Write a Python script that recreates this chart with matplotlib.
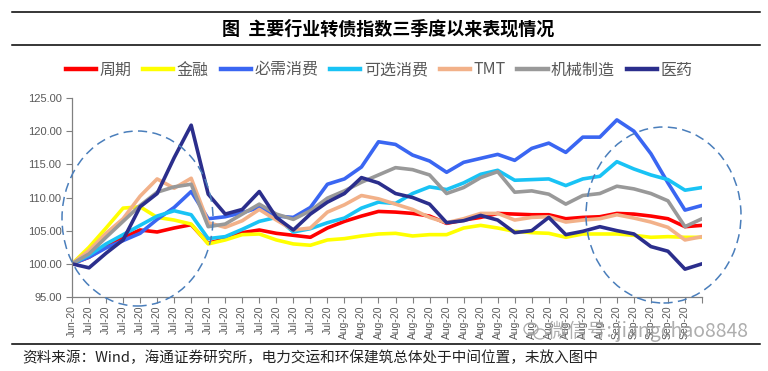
import numpy as np
import matplotlib
matplotlib.use('Agg')
import matplotlib.pyplot as plt
from matplotlib.patches import Ellipse
from matplotlib.lines import Line2D

plt.rcParams['font.family'] = ['Liberation Sans', 'Noto Sans CJK SC', 'DejaVu Sans']

# tick labels (Excel category axis, the last point has no label)
dates = (['Jun-20'] + ['Jul-20'] * 15 + ['Aug-20'] * 16 + ['Sep-20'] * 5)

names = ['周期', '金融', '必需消费', '可选消费', 'TMT', '机械制造', '医药']
colors = ['#FF0000', '#FFFF00', '#3A66F2', '#19C3F5', '#F2B189', '#999999', '#2B2E8C']

zhouqi = [100.0, 101.0, 102.6, 104.0, 105.1, 104.8, 105.4, 105.9, 103.1, 103.8,
          104.7, 105.1, 104.6, 104.3, 104.0, 105.4, 106.4, 107.2, 107.9, 107.8,
          107.6, 107.2, 106.1, 106.6, 107.0, 107.6, 107.5, 107.4, 107.4, 106.8,
          107.0, 107.1, 107.6, 107.5, 107.2, 106.8, 105.6, 105.8]
jinrong = [100.0, 102.5, 105.4, 108.4, 108.6, 107.0, 106.6, 106.0, 103.0, 103.6,
           104.4, 104.5, 103.6, 103.0, 102.8, 103.6, 103.8, 104.2, 104.5, 104.6,
           104.2, 104.4, 104.4, 105.4, 105.8, 105.4, 104.9, 104.7, 104.6, 104.0,
           104.5, 104.5, 104.5, 104.3, 104.0, 104.1, 104.0, 104.0]
bixu = [100.0, 101.0, 102.4, 103.5, 104.6, 106.7, 108.5, 110.9, 106.8, 107.1,
        107.7, 108.5, 107.2, 107.0, 108.5, 112.0, 112.8, 114.6, 118.4, 118.0,
        116.4, 115.5, 113.8, 115.3, 115.9, 116.5, 115.6, 117.4, 118.2, 116.8,
        119.1, 119.1, 121.7, 120.0, 116.6, 112.2, 108.1, 108.8]
kexuan = [100.0, 101.3, 103.0, 104.4, 105.8, 107.2, 108.0, 107.4, 103.8, 104.1,
          105.2, 106.4, 107.0, 104.8, 105.3, 106.2, 106.9, 108.4, 109.3, 109.1,
          110.6, 111.6, 111.2, 112.2, 113.5, 114.1, 112.6, 112.7, 112.8, 111.8,
          112.8, 113.2, 115.4, 114.3, 113.4, 112.7, 111.1, 111.5]
tmt = [100.0, 102.0, 104.6, 106.8, 110.2, 112.8, 111.4, 112.9, 106.2, 105.5,
       106.5, 108.2, 106.6, 105.1, 105.4, 107.8, 108.9, 110.3, 109.8, 109.0,
       108.2, 107.0, 106.2, 106.8, 107.6, 107.6, 106.6, 107.0, 107.1, 106.3,
       106.6, 106.8, 107.4, 106.9, 106.3, 105.5, 103.6, 104.1]
jixie = [100.0, 101.5, 104.0, 106.4, 108.8, 110.8, 111.6, 112.0, 105.6, 106.0,
         107.5, 109.0, 107.5, 106.7, 108.0, 109.9, 111.0, 112.3, 113.4, 114.5,
         114.2, 113.4, 110.6, 111.5, 113.0, 113.9, 110.8, 111.0, 110.5, 109.0,
         110.3, 110.6, 111.7, 111.3, 110.6, 109.5, 105.6, 106.8]
yiyao = [100.0, 99.4, 101.6, 103.6, 108.6, 110.6, 116.0, 120.9, 110.5, 107.5,
         108.2, 110.9, 107.0, 105.1, 107.5, 109.3, 110.6, 113.0, 112.2, 110.6,
         110.0, 109.0, 106.2, 106.5, 107.3, 106.6, 104.7, 105.0, 107.0, 104.4,
         104.9, 105.6, 105.0, 104.5, 102.6, 101.9, 99.2, 100.0]

series = [zhouqi, jinrong, bixu, kexuan, tmt, jixie, yiyao]
x = np.arange(len(zhouqi))

fig = plt.figure(figsize=(7.68, 3.71), dpi=100)
ax = fig.add_axes([72 / 768, 1 - 297 / 371, 630 / 768, 199 / 371])

for vals, c in zip(series, colors):
    ax.plot(x, vals, color=c, lw=2.6, solid_joinstyle='round', solid_capstyle='round')

ax.set_xlim(0, len(x) - 1)
ax.set_ylim(95, 125)
ax.set_yticks(np.arange(95, 126, 5))
ax.set_yticklabels(['%.2f' % v for v in np.arange(95, 126, 5)])
ax.set_xticks(x)
ax.set_xticklabels(dates + [''], rotation=90)
ax.tick_params(axis='y', labelsize=8, colors='#808080', labelcolor='#595959', length=4, width=0.8)
ax.tick_params(axis='x', labelsize=7.5, colors='#808080', labelcolor='#595959', length=4, width=0.8, pad=2)
for s in ['top', 'right']:
    ax.spines[s].set_visible(False)
for s in ['left', 'bottom']:
    ax.spines[s].set_color('#808080')
    ax.spines[s].set_linewidth(0.9)

# header / footer rules and title
for yy in [12, 45, 344]:
    fig.add_artist(Line2D([12 / 768, 760 / 768], [1 - yy / 371] * 2, color='black', lw=1.1))
fig.text(388 / 768, 1 - 29 / 371, '图  主要行业转债指数三季度以来表现情况', ha='center', va='center',
         fontsize=13, fontweight='bold', family=['Noto Sans CJK SC'])

handles = [Line2D([], [], color=c, lw=3.2) for c in colors]
fig.legend(handles, names, loc='center', bbox_to_anchor=(379 / 768, 1 - 70 / 371), ncol=7,
           frameon=False, handlelength=1.9, handletextpad=0.2, columnspacing=0.75,
           prop={'family': ['Noto Sans CJK SC', 'DejaVu Sans'], 'size': 11.5}, labelcolor='#595959')

fig.text(22 / 768, 1 - 358 / 371, '资料来源：Wind，海通证券研究所，电力交运和环保建筑总体处于中间位置，未放入图中',
         ha='left', va='center', fontsize=10.5, family=['Noto Sans CJK SC', 'DejaVu Sans'], color='#222222')

# dashed circles
for cx, cy, w, h in [(137.5, 218.5, 151, 175), (663.5, 215, 155, 176)]:
    fig.add_artist(Ellipse((cx / 768, 1 - cy / 371), w / 768, h / 371, fill=False,
                           ec='#4A7EBB', lw=1.1, ls=(0, (6, 3.5))))

# watermark
fig.add_artist(Ellipse((531 / 768, 1 - 329 / 371), 14 / 768, 12 / 371, fill=False, ec='#A8A8A8', lw=0.9))
fig.add_artist(Ellipse((540 / 768, 1 - 334 / 371), 12 / 768, 10 / 371, fill=False, ec='#A8A8A8', lw=0.9))
fig.text(548 / 768, 1 - 331 / 371, '微信号: jiangchao8848', ha='left', va='center', fontsize=14,
         family=['Noto Sans CJK SC', 'DejaVu Sans'], color='#9A9A9A', alpha=0.8)

fig.savefig('out.png', dpi=100)
